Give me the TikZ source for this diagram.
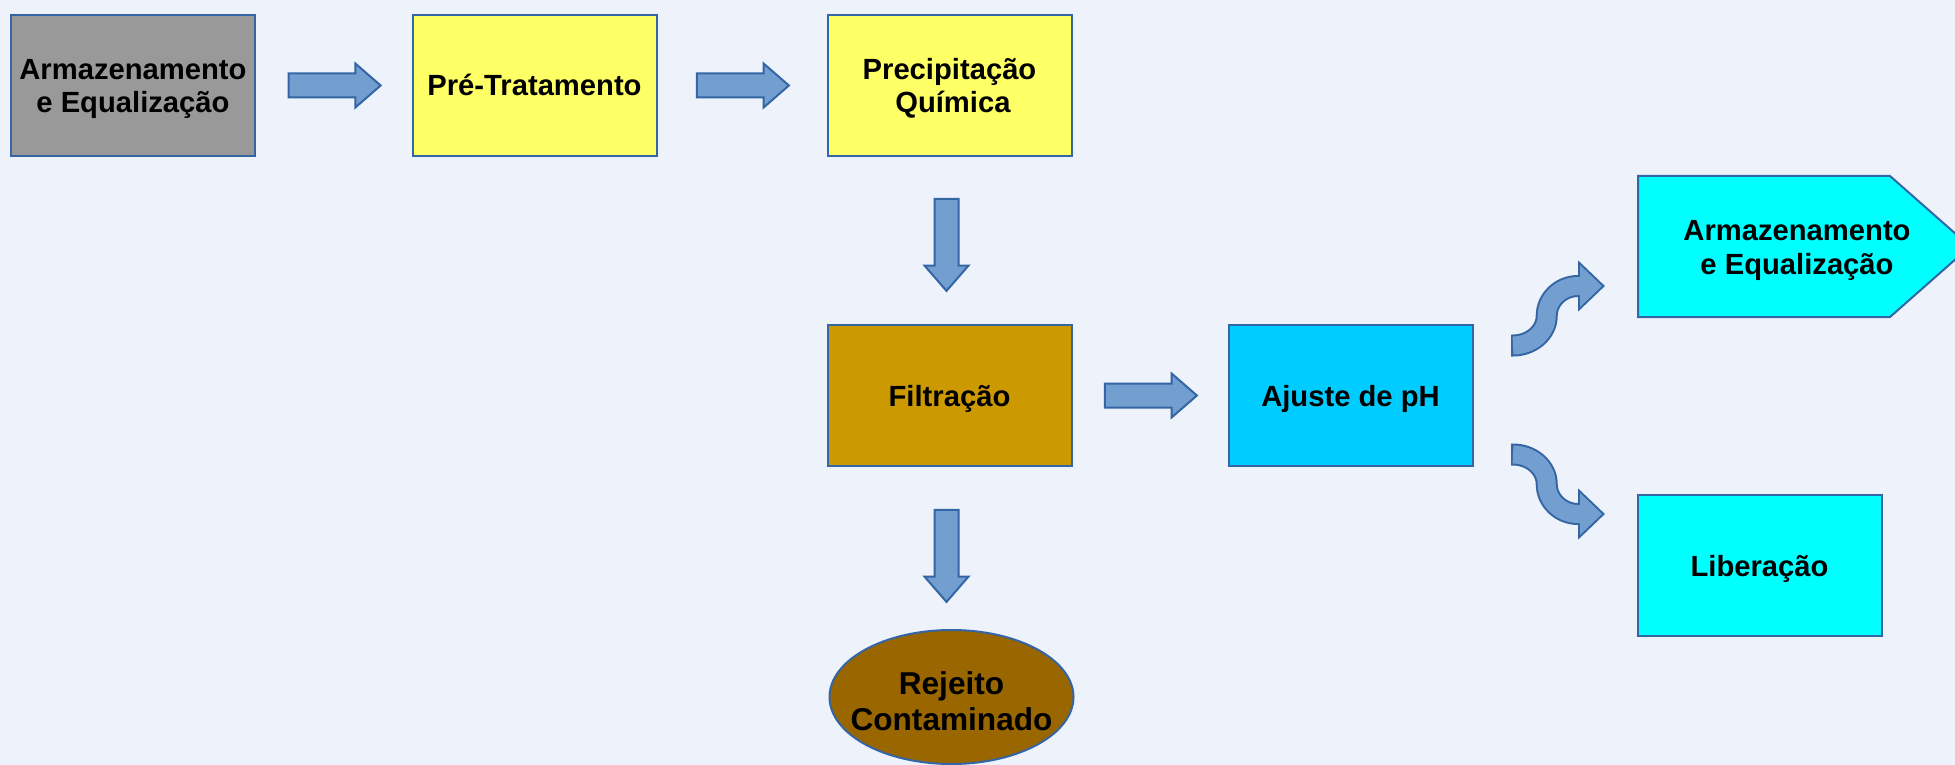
\documentclass[tikz,border=0pt]{standalone}
\usepackage{fontspec}
\setmainfont{Liberation Sans}
\usetikzlibrary{shapes.geometric,shapes.arrows,calc}
\definecolor{bord}{RGB}{52,101,164}
\definecolor{afill}{RGB}{114,159,207}
\definecolor{bgc}{RGB}{238,242,250}
\definecolor{grayb}{RGB}{153,153,153}
\definecolor{yellowb}{RGB}{255,255,102}
\definecolor{filtc}{RGB}{204,153,0}
\definecolor{ajc}{RGB}{0,204,255}
\definecolor{cyanb}{RGB}{0,255,255}
\definecolor{rejc}{RGB}{153,102,0}
\newcommand{\curveA}{(1513,345.5) .. controls (1531.5,345.5) and (1546.7,332.2) .. (1546.7,316) .. controls (1546.7,299.5) and (1560.8,286) .. (1578,286) -- (1583,286)}
\newcommand{\curveB}{(1513,454.5) .. controls (1531.5,454.5) and (1546.7,467.8) .. (1546.7,484) .. controls (1546.7,500.5) and (1560.8,514) .. (1578,514) -- (1583,514)}
\begin{document}
\begin{tikzpicture}[x=0.5pt,y=-0.5pt,
  txt/.style={font=\bfseries\fontsize{14.6}{16.8}\selectfont, align=center, inner sep=0pt, text height=10.5pt, text depth=0pt},
  txttwo/.style={txt, text height=27.3pt},
  box/.style={rectangle, draw=bord, line width=1pt, minimum width=122pt, minimum height=70.5pt},
  blockarrow/.style={single arrow, draw=bord, fill=afill, line width=1pt, minimum height=46pt,
    inner xsep=0pt, inner ysep=5.5pt, single arrow head extend=5pt, single arrow tip angle=82}]
\clip (0,0) rectangle (1955,765);
\fill[bgc] (0,0) rectangle (1955,765);
% boxes
\node[box, txttwo, fill=grayb] (a1) at (133,85.5) {Armazenamento\\e Equalização};
\node[box, txt, fill=yellowb] (a2) at (534.5,85.5) {Pré-Tratamento};
\node[box, txttwo, fill=yellowb] (a3) at (949.5,85.5) {Precipitação\\\hspace*{3.4pt}Química};
\node[box, txt, fill=filtc] (filt) at (949.5,395.5) {Filtração};
\node[box, txt, fill=ajc] (aj) at (1350.5,395.5) {Ajuste de pH};
\node[box, txt, fill=cyanb] (lib) at (1759.5,565.5) {Liberação};
% pentagon
\path[draw=bord, fill=cyanb, line width=1pt] (1638,176) -- (1890,176) -- (1970,246.5) -- (1890,317) -- (1638,317) -- cycle;
\node[txttwo] (arm2) at (1797,247) {Armazenamento\\e Equalização};
% ellipse
\node[ellipse, draw=bord, fill=rejc, line width=1pt, minimum width=122pt, minimum height=67pt, inner sep=0pt] (rej) at (951.5,697) {};
\node[txt, font=\bfseries\fontsize{15.8}{18}\selectfont, text height=29.3pt, text depth=0pt] (rejt) at ($(rej.center)+(0,4)$) {Rejeito\\Contaminado};
% straight block arrows
\node[blockarrow] (b1) at ($(a1.east)!0.5!(a2.west)+(-6,0)$) {};
\node[blockarrow] (b2) at ($(a2.east)!0.5!(a3.west)+(-6,0)$) {};
\node[blockarrow] (b3) at ($(filt.east)!0.5!(aj.west)+(-6,0)$) {};
\node[blockarrow, rotate=-90] (b4) at ($($(a3.south)!0.5!(filt.north)$)+(-3,-2.5)$) {};
\node[blockarrow, rotate=-90] (b5) at ($($(filt.south)!0.5!(rej.north)$)+(-4,1)$) {};
% curved arrows: borders
\draw[bord, line width=11pt] (1511,345.5) -- \curveA;
\draw[bord, line width=11pt] (1511,454.5) -- \curveB;
\filldraw[bord, line width=2pt, line join=miter] (1580,265) -- (1602,286) -- (1580,307) -- cycle;
\filldraw[bord, line width=2pt, line join=miter] (1580,493) -- (1602,514) -- (1580,535) -- cycle;
% curved arrows: fills
\draw[afill, line width=9pt] \curveA;
\draw[afill, line width=9pt] \curveB;
\fill[afill] (1580,265) -- (1602,286) -- (1580,307) -- cycle;
\fill[afill] (1580,493) -- (1602,514) -- (1580,535) -- cycle;
\end{tikzpicture}
\end{document}
